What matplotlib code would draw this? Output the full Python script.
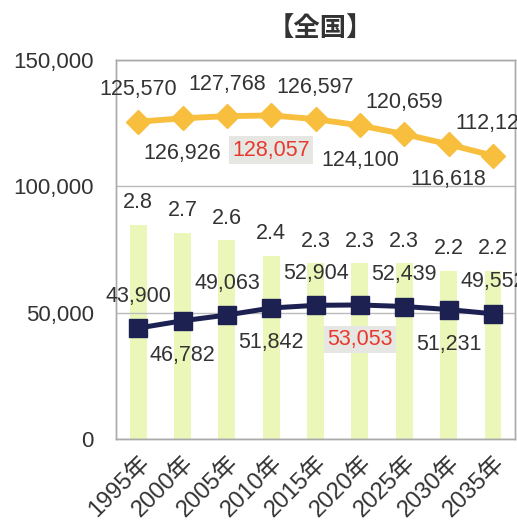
import matplotlib
matplotlib.use("Agg")
import matplotlib.pyplot as plt

# ── Data ──
years = ["1995年", "2000年", "2005年", "2010年", "2015年", "2020年", "2025年", "2030年", "2035年"]
population = [125570, 126926, 127768, 128057, 126597, 124100, 120659, 116618, 112124]
households = [43900, 46782, 49063, 51842, 52904, 53053, 52439, 51231, 49552]
household_size = [2.8, 2.7, 2.6, 2.4, 2.3, 2.3, 2.3, 2.2, 2.2]
peak_pop_idx = 3
peak_hh_idx = 5

plt.rcParams["font.family"] = ["Liberation Sans", "Noto Sans CJK JP"]

fig = plt.figure(figsize=(5.17, 5.23), dpi=100)
ax = fig.add_axes([0.2244, 0.1606, 0.772, 0.7247])
ax2 = ax.twinx()
ax.set_zorder(ax2.get_zorder() + 1)
ax.patch.set_visible(False)

x = list(range(len(years)))

# bars: household size on a hidden secondary axis
ax2.bar(x, household_size, width=0.38, color="#ebf7b8", zorder=1)
ax2.set_ylim(0, 4.96)
ax2.set_yticks([])
for xi, v in zip(x, household_size):
    ax2.annotate(f"{v:.1f}", (xi, v), xytext=(0, 16), textcoords="offset points",
                 ha="center", va="center", fontsize=15.5, color="#333333")

# lines
ax.plot(x, population, color="#f8bf3e", lw=4.2, marker="D", ms=12, zorder=3)
ax.plot(x, households, color="#1c2152", lw=3.6, marker="s", ms=13, zorder=3)

for series, peak in ((population, peak_pop_idx), (households, peak_hh_idx)):
    for i, v in enumerate(series):
        dy = 23 if i % 2 == 0 else -25
        if i == peak:
            ax.annotate(f"{v:,}", (i, v), xytext=(0, dy), textcoords="offset points",
                        ha="center", va="center", fontsize=15.5, color="#e8392f",
                        bbox=dict(boxstyle="square,pad=0.15", fc="#e6e6e2", ec="none"),
                        annotation_clip=False, zorder=5)
        else:
            ax.annotate(f"{v:,}", (i, v), xytext=(0, dy), textcoords="offset points",
                        ha="center", va="center", fontsize=15.5, color="#333333",
                        annotation_clip=False, zorder=5)

ax.set_xlim(-0.5, len(years) - 0.5)
ax.set_ylim(0, 150000)
ax.set_yticks([0, 50000, 100000, 150000])
ax.set_yticklabels([f"{t:,}" for t in [0, 50000, 100000, 150000]], fontsize=16, color="#333333")
ax.set_xticks(x)
ax.set_xticklabels(years, rotation=45, ha="right", rotation_mode="anchor", fontsize=17,
                   color="#333333")
ax.tick_params(axis="both", length=0)
ax.tick_params(axis="y", pad=16)
ax.tick_params(axis="x", pad=9)
ax.yaxis.grid(True, color="#bbbbbb", lw=1)
ax.set_axisbelow(True)
for a in (ax, ax2):
    for s in a.spines.values():
        s.set_color("#aaaaaa")
        s.set_linewidth(1)

fig.text(0.62, 0.945, "【全国】", ha="center", va="center", fontsize=19, fontweight="bold",
         color="#333333", family=["Noto Sans CJK JP"])

fig.savefig("out.png", dpi=100)
